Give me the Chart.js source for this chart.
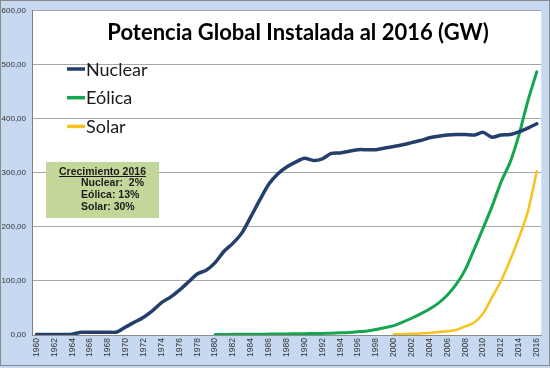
<!DOCTYPE html>
<html><head><meta charset="utf-8">
<script src="https://cdn.jsdelivr.net/npm/chart.js@4/dist/chart.umd.min.js"></script>
<style>html,body{margin:0;padding:0;background:#fff}#wrap{width:550px;height:368px;position:relative}canvas{display:block}</style>
</head><body><div id="wrap"><canvas id="c" width="550" height="368"></canvas></div>
<script>
const years = ['1960','1961','1962','1963','1964','1965','1966','1967','1968','1969',
'1970','1971','1972','1973','1974','1975','1976','1977','1978','1979',
'1980','1981','1982','1983','1984','1985','1986','1987','1988','1989',
'1990','1991','1992','1993','1994','1995','1996','1997','1998','1999',
'2000','2001','2002','2003','2004','2005','2006','2007','2008','2009',
'2010','2011','2012','2013','2014','2015','2016'];

const nuclear = [1,1,1,1,1.5,5,5,5,5,5.5,
15,24,33,45,60,70,83,98,113,120,
134,155,170,189,219,250,279,298,311,320,
327,323,326,336,337,340,343,343,343,346,
349,352,356,360,365,368,370,371,371,370,
375,366,370,371,376,383,391];

const eolica = [null,null,null,null,null,null,null,null,null,null,
null,null,null,null,null,null,null,null,null,null,
1,1,1.2,1.3,1.4,1.5,1.7,1.8,2,2.2,
2.5,2.7,3,3.4,4,4.8,6.1,7.6,10,13.6,
17.4,24,31,39,48,59,74,94,121,159,
198,238,283,319,370,433,487];

const solar = [null,null,null,null,null,null,null,null,null,null,
null,null,null,null,null,null,null,null,null,null,
null,null,null,null,null,null,null,null,null,null,
null,null,null,null,null,null,null,null,null,null,
1.2,1.5,2.2,2.8,3.9,5.4,6.9,9.5,16,23,
40,70,100,138,180,228,303];

const seriesNames = ['Nuclear','Eólica','Solar'];
const yTicks = [0,100,200,300,400,500,600];
const titleText = 'Potencia Global Instalada al 2016 (GW)';
const noteTitle = 'Crecimiento 2016';
const noteLines = ['Nuclear:  2%','Eólica: 13%','Solar: 30%'];

const colors = ['#243f6b','#14a550','#f6c21c'];
const widths = [3.5,3,2.5];

const decor = {
  id:'decor',
  beforeDraw(chart){
    const {ctx, chartArea:a, width, height} = chart;
    ctx.save();
    ctx.fillStyle = '#c6d9f1';
    ctx.fillRect(0,0,width,height);
    ctx.fillStyle = '#ffffff';
    ctx.fillRect(a.left, a.top, a.right-a.left, a.bottom-a.top);
    ctx.strokeStyle = '#8a8a8a';
    ctx.lineWidth = 1;
    ctx.strokeRect(0.5,0.5,width-1,height-3);
    ctx.restore();
  },
  afterDraw(chart){
    const {ctx, chartArea:a} = chart;
    ctx.save();
    // title
    ctx.fillStyle = '#000';
    ctx.font = 'bold 22px Lato';
    ctx.textAlign = 'center';
    ctx.textBaseline = 'alphabetic';
    ctx.fillText(titleText, 298, 40);
    // legend
    ctx.font = '18px Lato';
    ctx.textAlign = 'left';
    chart.data.datasets.forEach((ds,i)=>{
      const y = 69 + i*28.7;
      ctx.strokeStyle = ds.borderColor;
      ctx.lineWidth = 3.5;
      ctx.beginPath(); ctx.moveTo(67,y); ctx.lineTo(85,y); ctx.stroke();
      ctx.fillStyle = '#1a1a1a';
      ctx.fillText(ds.label, 86, y+6.5);
    });
    // note box
    ctx.fillStyle = '#c4d79b';
    ctx.fillRect(46,162,113,56);
    ctx.fillStyle = '#1a1a1a';
    ctx.font = 'bold 10.5px "Liberation Sans"';
    ctx.textAlign = 'center';
    ctx.fillText(noteTitle, 102.5, 175);
    const w = ctx.measureText(noteTitle).width;
    ctx.strokeStyle = '#1a1a1a'; ctx.lineWidth = 1;
    ctx.beginPath(); ctx.moveTo(102.5-w/2,176.5); ctx.lineTo(102.5+w/2,176.5); ctx.stroke();
    ctx.textAlign = 'left';
    noteLines.forEach((t,i)=>ctx.fillText(t, 81, 186+i*11.8));
    ctx.restore();
  }
};

new Chart(document.getElementById('c'), {
  type:'line',
  data:{
    labels: years,
    datasets:[nuclear,eolica,solar].map((d,i)=>({
      label: seriesNames[i], data:d, borderColor:colors[i], backgroundColor:colors[i],
      borderWidth:widths[i], pointRadius:0, tension:0.25, spanGaps:false, fill:false,
      borderCapStyle:'round', borderJoinStyle:'round'
    }))
  },
  options:{
    responsive:false, animation:false,
    layout:{padding:{left:0,top:6,right:5,bottom:0}},
    plugins:{legend:{display:false}, tooltip:{enabled:false}, title:{display:false}},
    scales:{
      x:{
        type:'category', offset:true,
        grid:{display:false, drawTicks:false},
        border:{display:true, color:'#8c8c8c'},
        ticks:{autoSkip:false, maxRotation:90, minRotation:90, padding:3,
          font:{family:'Liberation Sans', size:8.5}, color:'#333',
          callback:function(v,i){ return i%2===0 ? this.getLabelForValue(v) : ''; }},
        afterFit(s){ s.height = 33; }
      },
      y:{
        min:0, max:600,
        afterBuildTicks(s){ s.ticks = yTicks.map(v=>({value:v})); },
        grid:{color:'#a6a6a6', drawTicks:false},
        border:{display:true, color:'#7f7f7f'},
        ticks:{padding:6, font:{family:'Liberation Sans', size:8}, color:'#333',
          callback:v=>v.toFixed(2).replace('.',',')},
        afterFit(s){ s.width = 32; }
      }
    }
  },
  plugins:[decor]
});
</script>
</body></html>
